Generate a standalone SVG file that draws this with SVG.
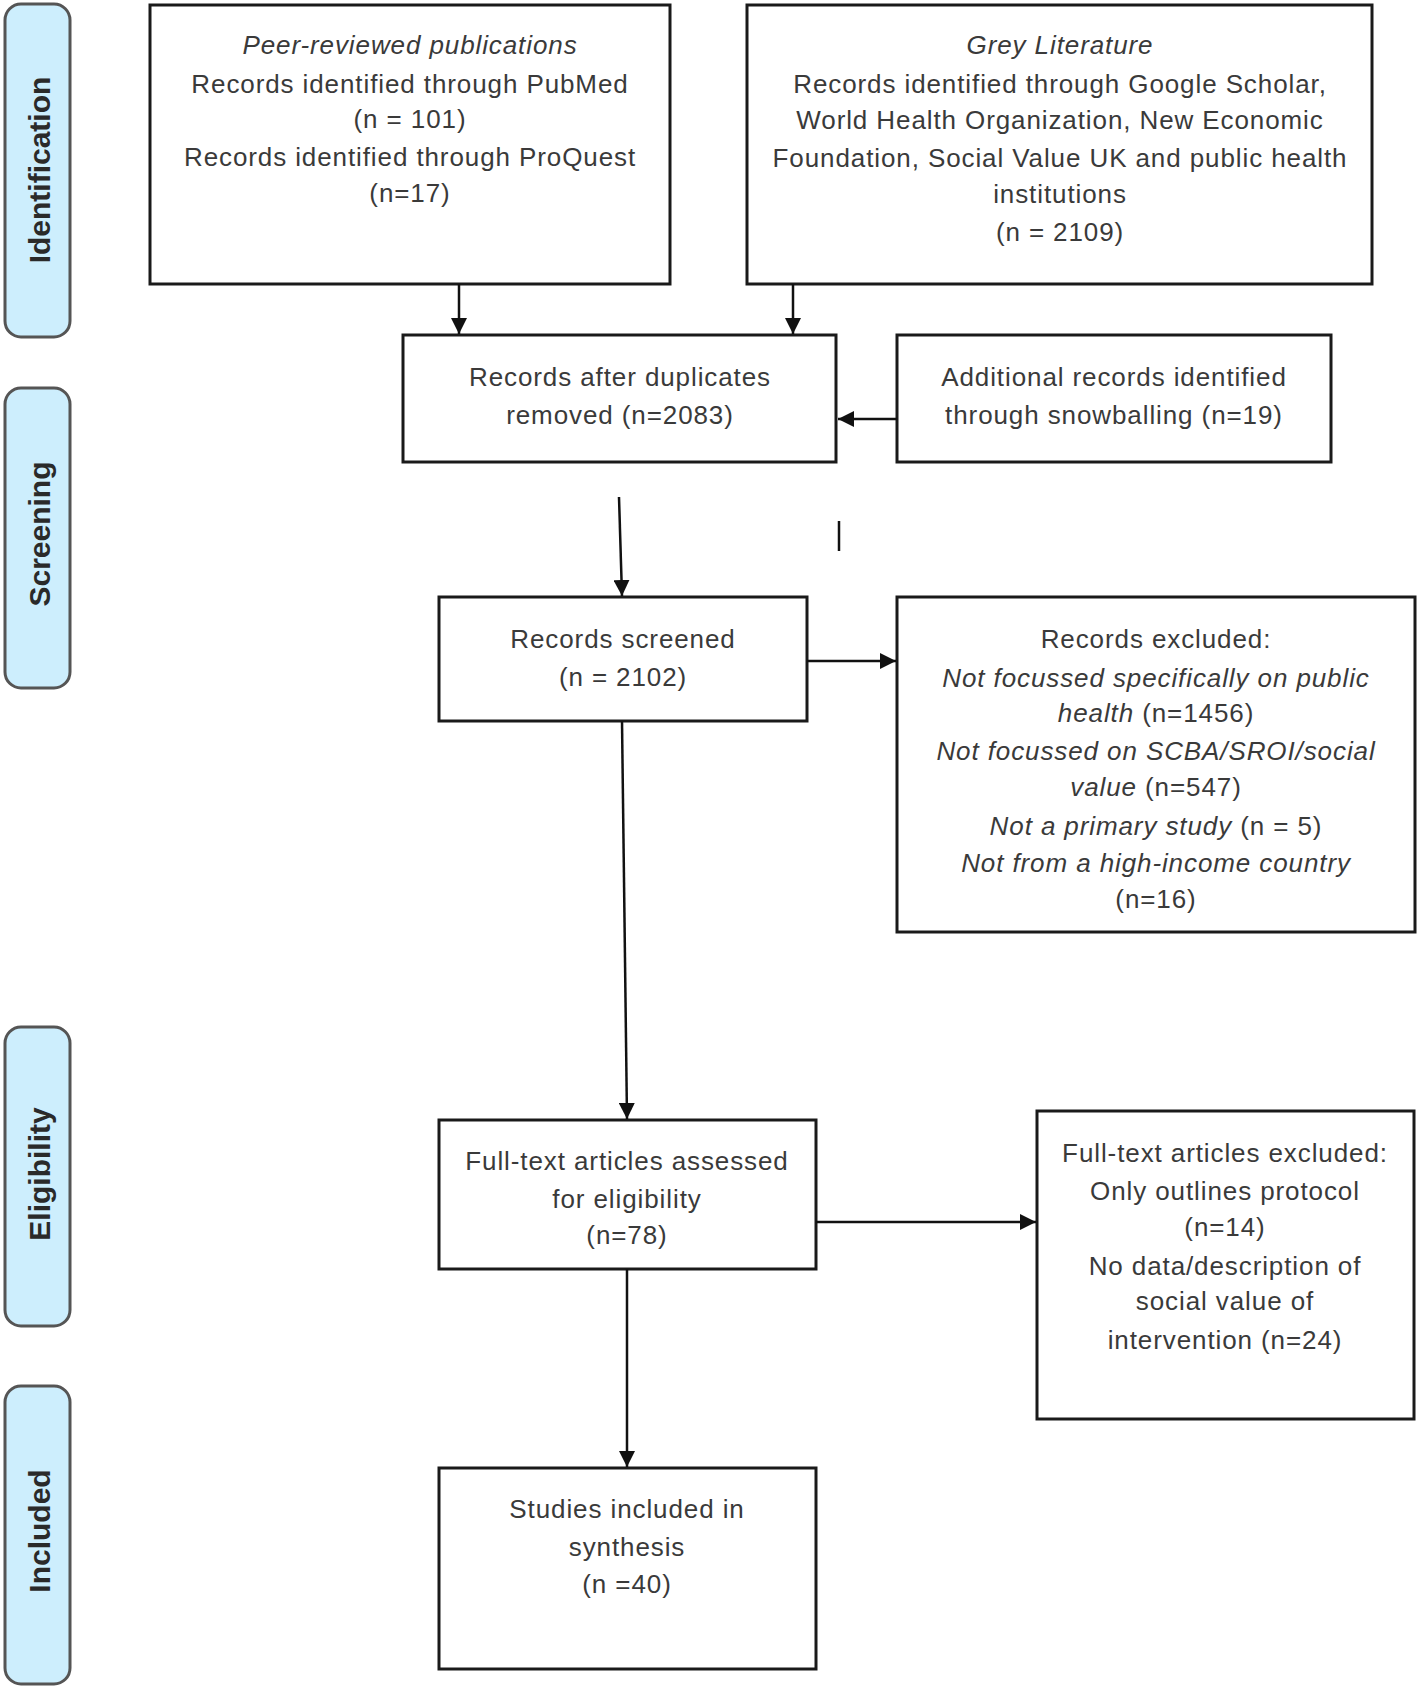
<svg xmlns="http://www.w3.org/2000/svg" width="1418" height="1691" viewBox="0 0 1418 1691">
<style>
.box{fill:#ffffff;stroke:#1a1a1a;stroke-width:3}
.lab{fill:#cdeefd;stroke:#555555;stroke-width:3}
.t{font-family:"Liberation Sans",Arial,sans-serif;font-size:26px;letter-spacing:0.9px;fill:#3a3a3a;text-anchor:middle}
.i{font-style:italic}
.lt{font-family:"Liberation Sans",Arial,sans-serif;font-size:30px;font-weight:bold;fill:#2a2a2a;text-anchor:middle}
.c{stroke:#111111;stroke-width:2.5;fill:none}
</style>
<defs>
<marker id="ah" markerUnits="userSpaceOnUse" markerWidth="18" markerHeight="16" refX="16" refY="8" orient="auto">
<path d="M0,0 L16,8 L0,16 z" fill="#111111"/>
</marker>
</defs>
<rect width="1418" height="1691" fill="#ffffff"/>

<g id="label-identification">
<rect class="lab" x="5" y="4" width="65" height="333" rx="16"/>
<text class="lt" transform="translate(50,170) rotate(-90)">Identification</text>
</g>
<g id="label-screening">
<rect class="lab" x="5" y="388" width="65" height="300" rx="16"/>
<text class="lt" transform="translate(50,534) rotate(-90)">Screening</text>
</g>
<g id="label-eligibility">
<rect class="lab" x="5" y="1027" width="65" height="299" rx="16"/>
<text class="lt" transform="translate(50,1174) rotate(-90)">Eligibility</text>
</g>
<g id="label-included">
<rect class="lab" x="5" y="1386" width="65" height="298" rx="16"/>
<text class="lt" transform="translate(50,1531) rotate(-90)">Included</text>
</g>

<g id="peer-reviewed">
<rect class="box" x="150" y="5" width="520" height="279"/>
<text class="t i" x="410" y="54">Peer-reviewed publications</text>
<text class="t" x="410" y="93">Records identified through PubMed</text>
<text class="t" x="410" y="128">(n = 101)</text>
<text class="t" x="410" y="166">Records identified through ProQuest</text>
<text class="t" x="410" y="202">(n=17)</text>
</g>

<g id="grey-literature">
<rect class="box" x="747" y="5" width="625" height="279"/>
<text class="t i" x="1060" y="54">Grey Literature</text>
<text class="t" x="1060" y="93">Records identified through Google Scholar,</text>
<text class="t" x="1060" y="129">World Health Organization, New Economic</text>
<text class="t" x="1060" y="167">Foundation, Social Value UK and public health</text>
<text class="t" x="1060" y="203">institutions</text>
<text class="t" x="1060" y="241">(n = 2109)</text>
</g>

<g id="duplicates-removed">
<rect class="box" x="403" y="335" width="433" height="127"/>
<text class="t" x="620" y="386">Records after duplicates</text>
<text class="t" x="620" y="424">removed (n=2083)</text>
</g>

<g id="snowballing">
<rect class="box" x="897" y="335" width="434" height="127"/>
<text class="t" x="1114" y="386">Additional records identified</text>
<text class="t" x="1114" y="424">through snowballing (n=19)</text>
</g>

<g id="records-screened">
<rect class="box" x="439" y="597" width="368" height="124"/>
<text class="t" x="623" y="648">Records screened</text>
<text class="t" x="623" y="686">(n = 2102)</text>
</g>

<g id="records-excluded">
<rect class="box" x="897" y="597" width="518" height="335"/>
<text class="t" x="1156" y="648">Records excluded:</text>
<text class="t i" x="1156" y="687">Not focussed specifically on public</text>
<text class="t" x="1156" y="722"><tspan class="i">health</tspan> (n=1456)</text>
<text class="t i" x="1156" y="760">Not focussed on SCBA/SROI/social</text>
<text class="t" x="1156" y="796"><tspan class="i">value</tspan> (n=547)</text>
<text class="t" x="1156" y="835"><tspan class="i">Not a primary study</tspan> (n = 5)</text>
<text class="t i" x="1156" y="872">Not from a high-income country</text>
<text class="t" x="1156" y="908">(n=16)</text>
</g>

<g id="full-text-assessed">
<rect class="box" x="439" y="1120" width="377" height="149"/>
<text class="t" x="627" y="1170">Full-text articles assessed</text>
<text class="t" x="627" y="1208">for eligibility</text>
<text class="t" x="627" y="1244">(n=78)</text>
</g>

<g id="full-text-excluded">
<rect class="box" x="1037" y="1111" width="377" height="308"/>
<text class="t" x="1225" y="1162">Full-text articles excluded:</text>
<text class="t" x="1225" y="1200">Only outlines protocol</text>
<text class="t" x="1225" y="1236">(n=14)</text>
<text class="t" x="1225" y="1275">No data/description of</text>
<text class="t" x="1225" y="1310">social value of</text>
<text class="t" x="1225" y="1349">intervention (n=24)</text>
</g>

<g id="studies-included">
<rect class="box" x="439" y="1468" width="377" height="201"/>
<text class="t" x="627" y="1518">Studies included in</text>
<text class="t" x="627" y="1556">synthesis</text>
<text class="t" x="627" y="1593">(n =40)</text>
</g>

<g id="connectors">
<line class="c" x1="459" y1="284" x2="459" y2="334" marker-end="url(#ah)"/>
<line class="c" x1="793" y1="284" x2="793" y2="334" marker-end="url(#ah)"/>
<line class="c" x1="897" y1="419" x2="838" y2="419" marker-end="url(#ah)"/>
<line class="c" x1="619" y1="497" x2="622" y2="596" marker-end="url(#ah)"/>
<line class="c" x1="839" y1="521" x2="839" y2="551"/>
<line class="c" x1="807" y1="661" x2="896" y2="661" stroke-width="3.5" marker-end="url(#ah)"/>
<line class="c" x1="622" y1="721" x2="627" y2="1119" marker-end="url(#ah)"/>
<line class="c" x1="816" y1="1222" x2="1036" y2="1222" marker-end="url(#ah)"/>
<line class="c" x1="627" y1="1269" x2="627" y2="1467" marker-end="url(#ah)"/>
</g>
</svg>
